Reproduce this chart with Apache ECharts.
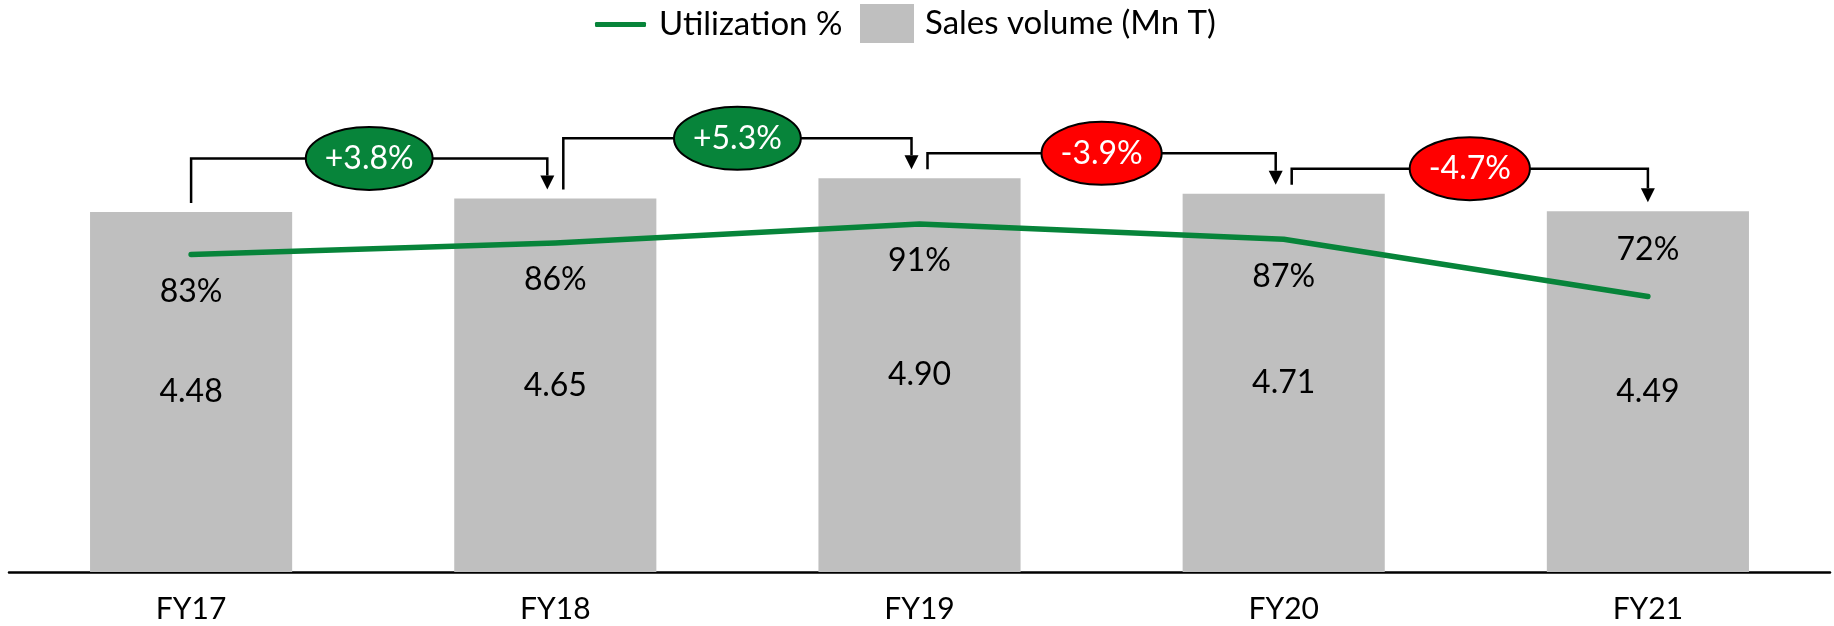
<!DOCTYPE html>
<html>
<head>
<meta charset="utf-8">
<script src="https://cdn.jsdelivr.net/npm/echarts@6/dist/echarts.min.js"></script>
<style>
html,body{margin:0;padding:0;background:#fff;}
#chart{width:1834px;height:626px;}
</style>
</head>
<body>
<div id="chart"></div>
<script>
// ---- data ----
var categories = ['FY17', 'FY18', 'FY19', 'FY20', 'FY21'];
var salesVolume = [4.48, 4.65, 4.90, 4.71, 4.49];
var utilization = [83, 86, 91, 87, 72];
var yoyChange = ['+3.8%', '+5.3%', '-3.9%', '-4.7%'];

// ---- styles ----
var FONT = 'Lato';
var GREEN = '#07843A';
var RED = '#FF0000';
var BAR = '#BFBFBF';
var bracketRise = [40, 40, 25, 25];
var utilLabelPos = ['bottom', 'bottom', 'bottom', 'bottom', 'top'];

var chart = echarts.init(document.getElementById('chart'));

var measureCtx = document.createElement('canvas').getContext('2d');
function textW(t, size) { measureCtx.font = size + 'px ' + FONT; return measureCtx.measureText(t).width; }

function renderBracket(params, api) {
  var i = params.dataIndex;
  var n = categories.length;
  var p0 = api.coord([i, salesVolume[i]]);
  var p1 = api.coord([i + 1, salesVolume[i + 1]]);
  var x0 = p0[0] + (i > 0 ? 8 : 0);
  var x1 = p1[0] - (i + 1 < n - 1 ? 8 : 0);
  var gap = 9;
  var y0 = p0[1] - gap;
  var y1 = p1[1] - gap;
  var lvl = Math.min(p0[1], p1[1]) - bracketRise[i];
  var ah = 14, aw = 7;
  var txt = yoyChange[i];
  var fill = txt.charAt(0) === '-' ? RED : GREEN;
  var cx = (x0 + x1) / 2;
  var rx = textW(txt, 32) / 2 + 19;
  var ry = 31.5;
  return {
    type: 'group',
    children: [
      { type: 'polyline', shape: { points: [[x0, y0], [x0, lvl], [x1, lvl], [x1, y1 - ah]] },
        style: { stroke: '#000', lineWidth: 2.5, fill: null } },
      { type: 'polygon', shape: { points: [[x1 - aw, y1 - ah], [x1 + aw, y1 - ah], [x1, y1]] },
        style: { fill: '#000' } },
      { type: 'ellipse', shape: { cx: cx, cy: lvl, rx: rx, ry: ry },
        style: { fill: fill, stroke: '#000', lineWidth: 2 } },
      { type: 'text', style: { text: txt, x: cx, y: lvl, align: 'center', verticalAlign: 'middle',
        fill: '#fff', font: '32px ' + FONT } }
    ]
  };
}

var option = {
  animation: false,
  legend: [
    { data: ['Utilization %'], left: 595, top: 8, padding: 0, selectedMode: false,
      itemWidth: 51, itemHeight: 5, icon: 'roundRect',
      textStyle: { fontFamily: FONT, fontSize: 33, color: '#000', padding: [0, 0, 0, 8] } },
    { data: ['Sales volume (Mn T)'], left: 860, top: 4, padding: 0, selectedMode: false,
      itemWidth: 54, itemHeight: 39, icon: 'rect',
      textStyle: { fontFamily: FONT, fontSize: 33, color: '#000', padding: [0, 0, 0, 6] } }
  ],
  grid: { left: 9, right: 4, top: 90, bottom: 54, containLabel: false },
  xAxis: {
    type: 'category', data: categories,
    axisTick: { show: false },
    axisLine: { lineStyle: { color: '#000', width: 2.5 } },
    axisLabel: { fontFamily: FONT, fontSize: 30, color: '#000', margin: 22 }
  },
  yAxis: [
    { type: 'value', min: 0, max: 6, show: false, splitLine: { show: false } },
    { type: 'value', min: 0, max: 126, show: false, splitLine: { show: false } }
  ],
  series: [
    { name: 'Sales volume (Mn T)', type: 'bar', data: salesVolume, barWidth: '55.5%',
      itemStyle: { color: BAR },
      label: { show: true, position: 'inside', fontFamily: FONT, fontSize: 32, color: '#000',
        formatter: function (p) { return p.value.toFixed(2); } },
      z: 2 },
    { name: 'Utilization %', type: 'line', yAxisIndex: 1, symbol: 'circle', symbolSize: 2,
      showSymbol: true, z: 3,
      data: utilization.map(function (v, i) {
        return { value: v, label: { position: utilLabelPos[i], distance: utilLabelPos[i] === 'top' ? 30 : 20 } };
      }),
      lineStyle: { color: GREEN, width: 5.5, cap: 'round', join: 'round' },
      itemStyle: { color: GREEN },
      label: { show: true, fontFamily: FONT, fontSize: 32, color: '#000', formatter: '{c}%' } },
    { type: 'custom', renderItem: renderBracket, z: 4,
      data: yoyChange.map(function (c, i) { return [i, salesVolume[i]]; }),
      encode: { x: 0, y: 1 }, silent: true }
  ]
};
chart.setOption(option);
</script>
</body>
</html>
